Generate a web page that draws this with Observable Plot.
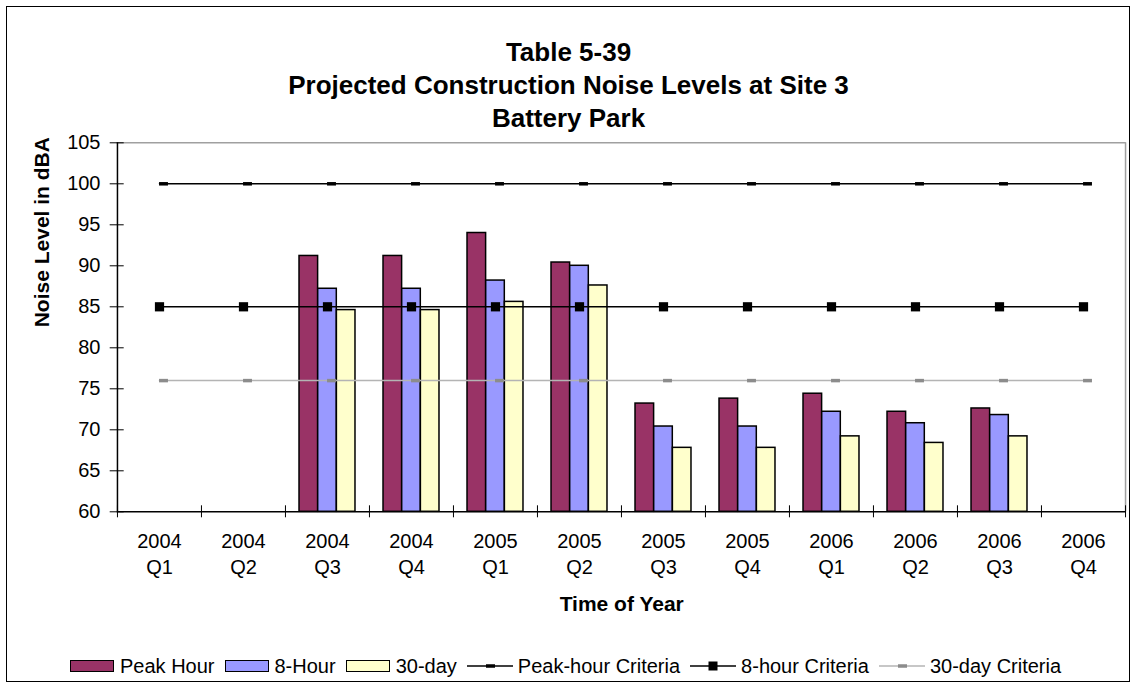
<!DOCTYPE html>
<html>
<head>
<meta charset="utf-8">
<script src="https://cdn.jsdelivr.net/npm/d3@7"></script>
<script src="https://cdn.jsdelivr.net/npm/@observablehq/plot@0.6"></script>
<style>
  html, body { margin: 0; padding: 0; background: #fff; }
  #chart { position: relative; width: 1135px; height: 683px; overflow: hidden;
           font-family: "Liberation Sans", Arial, sans-serif; color: #000; }
  #border { position: absolute; left: 6px; top: 6px; width: 1124px; height: 676px;
            border: 1.5px solid #000; box-sizing: border-box; }
  #title { position: absolute; left: 6px; width: 1125px; top: 36px; text-align: center;
           font-weight: bold; font-size: 26px; line-height: 33px; }
  #plot { position: absolute; left: 0; top: 130px; }
  #legend { position: absolute; left: 70px; top: 654px; height: 24px; display: flex;
            align-items: center; font-size: 20px; white-space: nowrap; }
  .item { display: flex; align-items: center; margin-right: 10px; }
  .sw { width: 44px; height: 12px; border: 1.5px solid #000; box-sizing: border-box; margin-right: 6px; }
  .ln { margin-right: 5px; display: block; }
</style>
</head>
<body>
<div id="chart">
  <div id="border"></div>
  <div id="title">Table 5-39<br>Projected Construction Noise Levels at Site 3<br>Battery Park</div>
  <div id="plot"></div>
  <div id="legend"></div>
</div>
<script>
// Quarters on the horizontal axis
const categories = ["2004 Q1", "2004 Q2", "2004 Q3", "2004 Q4", "2005 Q1", "2005 Q2",
                    "2005 Q3", "2005 Q4", "2006 Q1", "2006 Q2", "2006 Q3", "2006 Q4"];

// Projected noise levels (dBA); null where no construction is planned
const peakHour  = [null, null, 91.2, 91.2, 94.0, 90.4, 73.2, 73.8, 74.4, 72.2, 72.6, null];
const eightHour = [null, null, 87.2, 87.2, 88.2, 90.0, 70.4, 70.4, 72.2, 70.8, 71.8, null];
const thirtyDay = [null, null, 84.6, 84.6, 85.6, 87.6, 67.8, 67.8, 69.2, 68.4, 69.2, null];

// Criteria thresholds (dBA)
const peakHourCriteria  = [100, 100, 100, 100, 100, 100, 100, 100, 100, 100, 100, 100];
const eightHourCriteria = [85, 85, 85, 85, 85, 85, 85, 85, 85, 85, 85, 85];
const thirtyDayCriteria = [76, 76, 76, 76, 76, 76, 76, 76, 76, 76, 76, 76];

const yTicks = [60, 65, 70, 75, 80, 85, 90, 95, 100, 105];

const barNames = ["Peak Hour", "8-Hour", "30-day"];
const barColors = ["#993366", "#9999ff", "#ffffcc"];
const criteriaNames = ["Peak-hour Criteria", "8-hour Criteria", "30-day Criteria"];

// Layout
const W = 1135, H = 500;
const mL = 116.7, mR = 9.3, mT = 12.3, mB = 118.7;
const bw = (W - mL - mR) / categories.length;   // width of one category band
const pad = bw / 6;                              // gap on each side of a bar group
const barW = bw * 2 / 9;                         // width of each bar

const rows = (values) => values.map((v, i) => ({q: categories[i], v})).filter(d => d.v != null);

const barSeries = [peakHour, eightHour, thirtyDay];
const bars = barSeries.map((values, k) =>
  Plot.barY(rows(values), {
    x: "q", y1: yTicks[0], y2: "v",
    fill: barColors[k], stroke: "#000", strokeWidth: 1.5,
    insetLeft: pad + k * barW, insetRight: bw - pad - (k + 1) * barW
  })
);

const plot = Plot.plot({
  width: W, height: H,
  marginLeft: mL, marginRight: mR, marginTop: mT, marginBottom: mB,
  style: {fontFamily: "'Liberation Sans', Arial, sans-serif", fontSize: "20px", color: "#000", background: "transparent", overflow: "visible"},
  x: {type: "band", domain: categories, padding: 0, label: null},
  y: {domain: [60, 105], label: null},
  marks: [
    // plot area border (top and right) in grey
    Plot.ruleY([105], {stroke: "#a0a0a0", strokeWidth: 1.5}),
    Plot.ruleX([categories[categories.length - 1]], {dx: bw / 2, stroke: "#a0a0a0", strokeWidth: 1.5}),

    ...bars,

    // criteria lines
    Plot.lineY(rows(thirtyDayCriteria), {x: "q", y: "v", stroke: "#b4b4b4", strokeWidth: 1.5}),
    Plot.tickY(rows(thirtyDayCriteria), {x: "q", y: "v", stroke: "#8c8c8c", strokeWidth: 3.5,
      insetLeft: bw / 2, insetRight: bw / 2 - 9}),
    Plot.lineY(rows(eightHourCriteria), {x: "q", y: "v", stroke: "#000", strokeWidth: 1.5}),
    Plot.dot(rows(eightHourCriteria), {x: "q", y: "v", symbol: "square", r: 5.2, fill: "#000", stroke: "none"}),
    Plot.lineY(rows(peakHourCriteria), {x: "q", y: "v", stroke: "#000", strokeWidth: 1.5}),
    Plot.tickY(rows(peakHourCriteria), {x: "q", y: "v", stroke: "#000", strokeWidth: 3.5,
      insetLeft: bw / 2, insetRight: bw / 2 - 9}),

    // axes lines
    Plot.ruleY([60], {stroke: "#000", strokeWidth: 1.5}),
    Plot.ruleX([categories[0]], {dx: -bw / 2, stroke: "#000", strokeWidth: 1.5}),

    // y axis: crossing ticks, then labels
    Plot.axisY({ticks: yTicks, tickSize: 14, dx: 7, fill: "none", stroke: "#000", strokeWidth: 1, label: null}),
    Plot.axisY({ticks: yTicks, tickSize: 0, tickPadding: 16.7, fontSize: 20, fill: "#000", label: null}),

    // x axis: crossing ticks at category boundaries, then two-line labels
    Plot.axisX({tickSize: 12, dy: -6, dx: -bw / 2, fill: "none", stroke: "#000", strokeWidth: 1, label: null}),
    Plot.axisX([categories[categories.length - 1]], {tickSize: 12, dy: -6, dx: bw / 2, fill: "none", stroke: "#000", strokeWidth: 1, label: null}),
    Plot.axisX({tickSize: 0, tickPadding: 17.8, fontSize: 20, lineHeight: 1.31, fill: "#000",
      tickFormat: d => d.replace(" ", "\n"), label: null}),

    // axis titles
    Plot.text(["Noise Level in dBA"], {text: d => d, frameAnchor: "left", dx: -75, rotate: -90,
      fontWeight: "bold", fontSize: 21, fill: "#000"}),
    Plot.text(["Time of Year"], {text: d => d, frameAnchor: "bottom", dy: 99,
      fontWeight: "bold", fontSize: 21, fill: "#000"})
  ]
});
document.getElementById("plot").appendChild(plot);

// Legend
const legend = document.getElementById("legend");
barNames.forEach((name, k) => {
  const item = document.createElement("div");
  item.className = "item";
  item.innerHTML = `<div class="sw" style="background:${barColors[k]}"></div><span>${name}</span>`;
  legend.appendChild(item);
});
const lineStyles = [
  {stroke: "#000", marker: `<rect x="19" y="4.25" width="9" height="3.5" fill="#000"/>`},
  {stroke: "#000", marker: `<rect x="18.5" y="1.5" width="9" height="9" fill="#000"/>`},
  {stroke: "#b4b4b4", marker: `<rect x="19" y="4.25" width="9" height="3.5" fill="#8c8c8c"/>`}
];
criteriaNames.forEach((name, k) => {
  const item = document.createElement("div");
  item.className = "item";
  const s = lineStyles[k];
  item.innerHTML = `<svg class="ln" width="46" height="12"><line x1="0" x2="46" y1="6" y2="6" stroke="${s.stroke}" stroke-width="1.5"/>${s.marker}</svg><span>${name}</span>`;
  legend.appendChild(item);
});
</script>
</body>
</html>
